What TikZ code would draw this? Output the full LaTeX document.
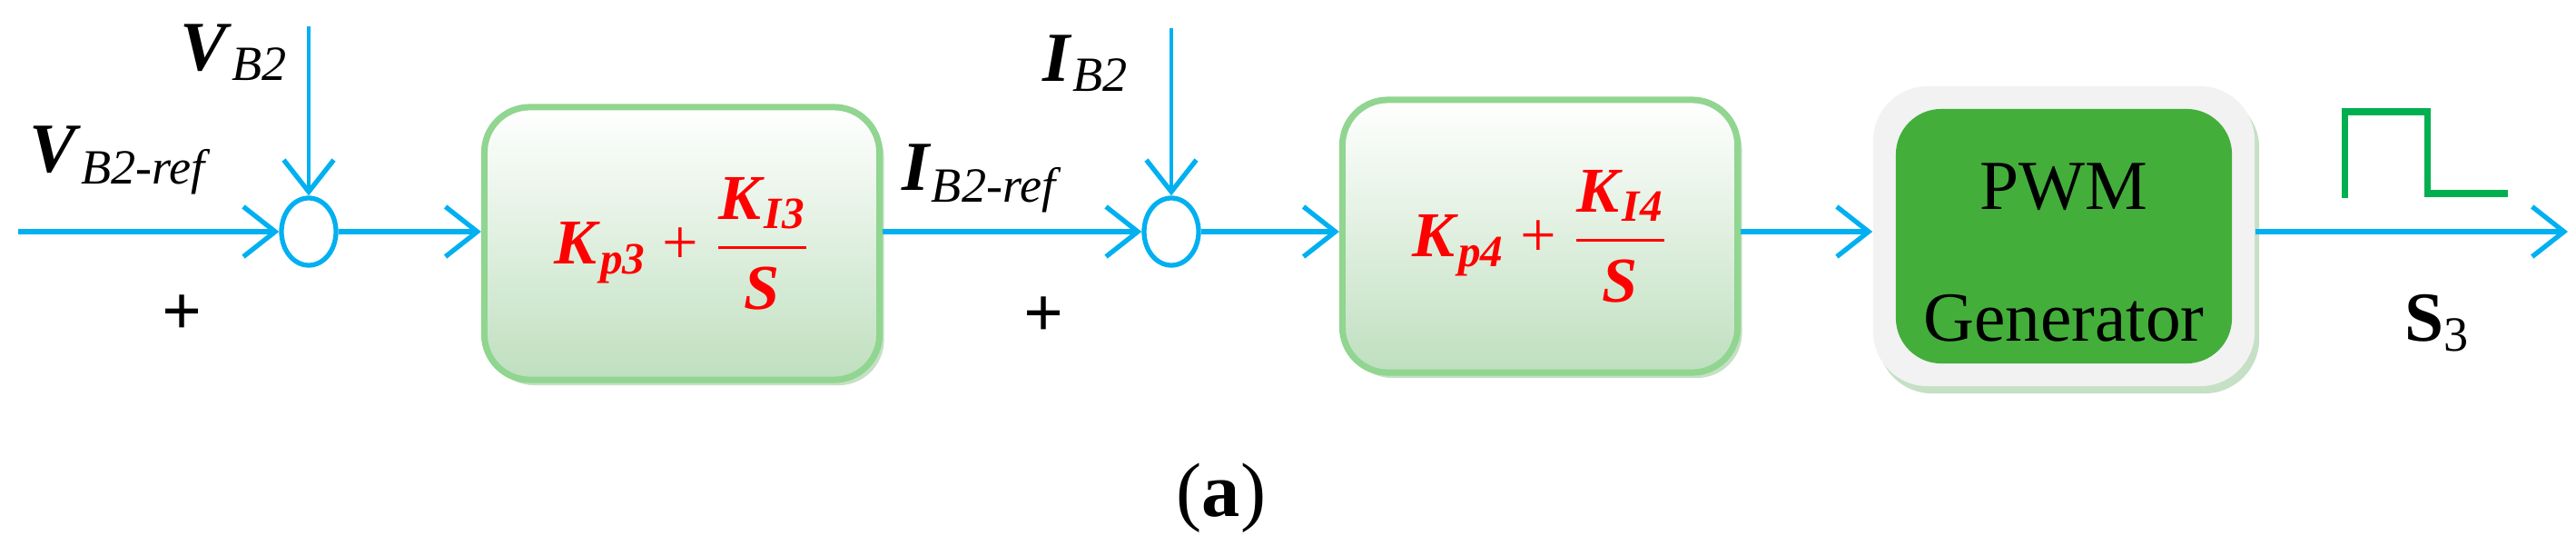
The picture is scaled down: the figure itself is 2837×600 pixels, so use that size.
\documentclass[tikz,border=0pt]{standalone}
\usepackage{amsmath}
\usepackage{fontspec}
\setmainfont{Liberation Serif}
\usepackage{tikz}
\usetikzlibrary{arrows.meta, shapes.geometric, shadows}
\definecolor{sigblue}{RGB}{0,176,240}
\definecolor{pwmgreen}{RGB}{68,174,59}
\definecolor{pulsegreen}{RGB}{0,176,80}
\newcommand{\bi}[1]{\textbf{\textit{#1}}}
\tikzset{
  sig/.style = {sigblue, line width=1.5pt, -{Straight Barb[length=3.5mm,width=5.5mm,line width=1.5pt]}},
  feed/.style = {sig, line width=1pt},
  summer/.style = {ellipse, draw=sigblue, line width=1.5pt, minimum width=0.6cm, minimum height=0.74cm, inner sep=0pt},
  piblock/.style = {rectangle, rounded corners=0.5cm, draw=green!45!gray!60, line width=2pt,
    top color=white, bottom color=green!50!black!25, minimum width=4.35cm, minimum height=3cm,
    drop shadow={shadow xshift=0.5mm, shadow yshift=-0.6mm, fill=green!30!gray!70},
    text=red, font=\fontsize{20}{24}\selectfont},
  lbl/.style = {font=\fontsize{22}{26}\selectfont},
}
\begin{document}
\begin{tikzpicture}[x=0.01cm, y=-0.01cm]
\useasboundingbox (0,0) rectangle (2837,600);

%summing points and blocks
\node[summer] (s1) at (340,255) {};
\node[summer] (s2) at (1290,255) {};
\node[piblock] (b1) at (751,268) {\bi{K}\textsubscript{\bi{p3}} + $\dfrac{\text{\bi{K}\textsubscript{\bi{I3}}}}{\text{\bi{S}}}$};
\node[piblock] (b2) at (1696,260) {\bi{K}\textsubscript{\bi{p4}} + $\dfrac{\text{\bi{K}\textsubscript{\bi{I4}}}}{\text{\bi{S}}}$};
\node[rectangle, rounded corners=0.6cm, fill=gray!10, minimum width=4.2cm, minimum height=3.3cm,
  drop shadow={shadow xshift=0.5mm, shadow yshift=-0.8mm, fill=green!30!gray!70}] (pwm) at (2273,260) {};
\node[rectangle, rounded corners=0.5cm, fill=pwmgreen, minimum width=3.7cm, minimum height=2.8cm] (gen) at (pwm.center) {};
\node[align=center, font=\fontsize{22}{41}\selectfont] (gentext) at (2273,278) {PWM\\Generator};

%free ends
\coordinate (vin) at (20,255);
\coordinate (vb2) at (340,29);
\coordinate (ib2) at (1290,31);
\coordinate (out) at (2828,255);

%signals
\draw[sig] (vin) -- (s1.west);
\draw[feed] (vb2) -- (s1.north);
\draw[sig] (s1.east) -- (s1.east -| b1.west);
\draw[sig] (b1.east |- s2.west) -- (s2.west);
\draw[feed] (ib2) -- (s2.north);
\draw[sig] (s2.east) -- (s2.east -| b2.west);
\draw[sig] (b2.east |- s2.east) -- (s2.east -| pwm.west);
\draw[sig] (pwm.east |- out) -- (out);

%pulse
\draw[pulsegreen, line width=2pt] (2582,218) -- (2582,123) -- (2673,123) -- (2673,213) -- (2762,213);

%labels
\node[lbl] (lvb2) at (258,58) {\bi{V}\textsubscript{\textit{B2}}};
\node[lbl] (lvref) at (133,176) {\bi{V}\textsubscript{\textit{B2-ref}}};
\node[lbl] (lib2) at (1196,70) {\bi{I}\textsubscript{\textit{B2}}};
\node[lbl] (liref) at (1082,196) {\bi{I}\textsubscript{\textit{B2-ref}}};
\node[lbl] (p1) at (201,347) {\textbf{+}};
\node[lbl] (p2) at (1150,349) {\textbf{+}};
\node[lbl] (ls3) at (2684,356) {\textbf{S}\textsubscript{3}};
\node[font=\fontsize{24}{28}\selectfont] (cap) at (1345,548) {(\textbf{a})};
\end{tikzpicture}
\end{document}
